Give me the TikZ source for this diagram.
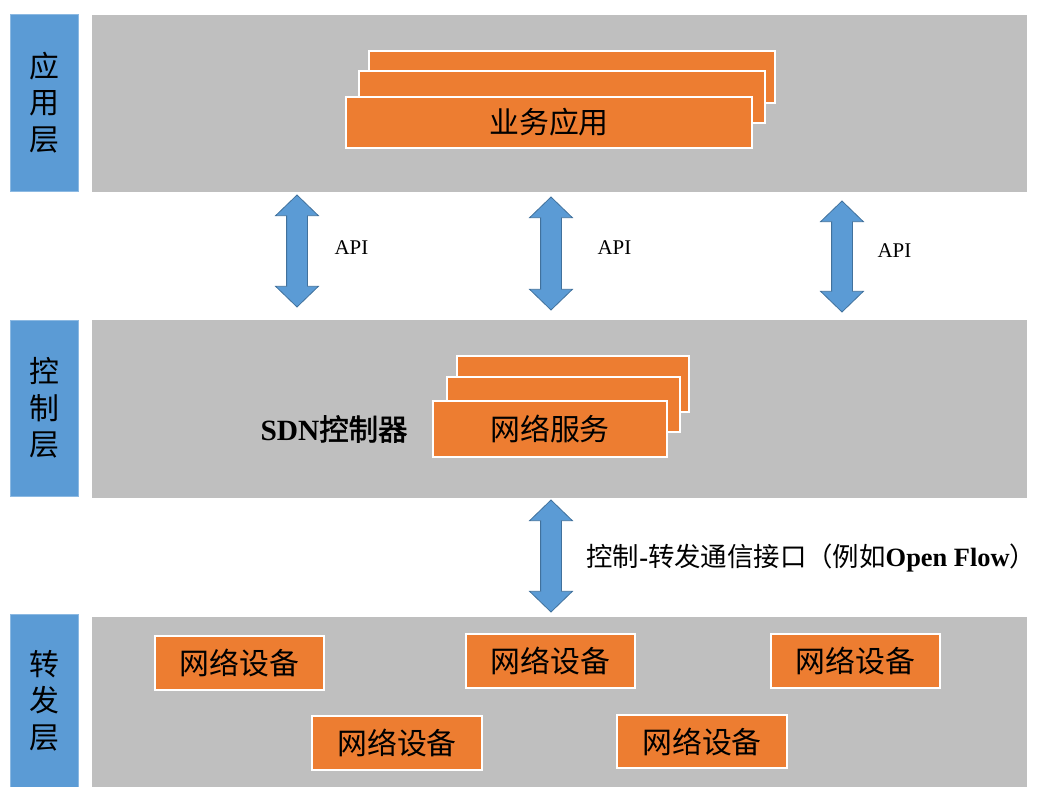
\documentclass[tikz,border=0pt]{standalone}
\usepackage{fontspec}
\setmainfont{Liberation Serif}
\newfontfamily\cjk[AutoFakeBold=2]{Noto Sans CJK SC}
\usetikzlibrary{shapes.arrows, positioning}
\definecolor{layerblue}{RGB}{91,155,213}
\definecolor{arrowedge}{RGB}{65,113,156}
\definecolor{panelgray}{RGB}{191,191,191}
\definecolor{cardorange}{RGB}{237,125,49}

\begin{document}
\begin{tikzpicture}[
    x=1bp, y=-1bp,
    layer/.style={fill=layerblue, draw=layerblue!70!white, minimum width=68bp, inner sep=0pt, font=\cjk\fontsize{30}{36.5}\selectfont, align=center},
    panel/.style={fill=panelgray, minimum width=935bp, inner sep=0pt},
    card/.style={fill=cardorange, draw=white, line width=1.2pt, inner sep=0pt, font=\cjk\fontsize{30}{36}\selectfont},
    link/.style={double arrow, fill=layerblue, draw=arrowedge, line width=0.8pt, rotate=90, minimum width=42bp, double arrow head extend=11bp, double arrow tip angle=92, inner xsep=0pt, inner ysep=10bp},
    api/.style={anchor=west, font=\fontsize{21}{23}\selectfont}
]
    \useasboundingbox (0,0) rectangle (1037,787);

    % layers
    \node[panel, minimum height=177bp] (apppanel) at (559.5,103.5) {};
    \node[panel, minimum height=178bp] (ctrlpanel) at (559.5,409) {};
    \node[panel, minimum height=170bp] (fwdpanel) at (559.5,702) {};
    \node[layer, minimum height=177bp] (applayer) at (44,102.5) {应\\用\\层};
    \node[layer, minimum height=176bp] (ctrllayer) at (44,408) {控\\制\\层};
    \node[layer, minimum height=173bp] (fwdlayer) at (44,700.5) {转\\发\\层};

    % application stack
    \node[card, minimum width=406bp, minimum height=52bp] (app3) at (572,77) {};
    \node[card, minimum width=406bp, minimum height=52bp] (app2) at (562,97) {};
    \node[card, minimum width=406bp, minimum height=51bp] (app1) at (549,122.5) {业务应用};

    % controller stack
    \node[card, minimum width=232bp, minimum height=56bp] (srv3) at (573,384) {};
    \node[card, minimum width=233bp, minimum height=55bp] (srv2) at (563.5,404.5) {};
    \node[card, minimum width=234bp, minimum height=56bp] (srv1) at (550,429) {网络服务};
    \node[anchor=east, font=\fontsize{29.5}{31}\selectfont\bfseries] (sdn) at (411,429) {SDN{\cjk 控制器}};

    % forwarding devices
    \node[card, minimum width=169bp, minimum height=54bp] (dev1) at (239.5,663) {网络设备};
    \node[card, minimum width=169bp, minimum height=54bp] (dev2) at (550.5,661) {网络设备};
    \node[card, minimum width=169bp, minimum height=54bp] (dev3) at (855.5,661) {网络设备};
    \node[card, minimum width=170bp, minimum height=54bp] (dev4) at (397,743) {网络设备};
    \node[card, minimum width=170bp, minimum height=53bp] (dev5) at (702,741.5) {网络设备};

    % interfaces
    \node[link, minimum height=112bp] (api1) at (297,251) {};
    \node[link, minimum height=113bp] (api2) at (551,253.5) {};
    \node[link, minimum height=111bp] (api3) at (842,256.5) {};
    \node[link, minimum height=112bp] (south) at (551,556) {};
    \node[api] (apitext1) at (331,248) {API};
    \node[api] (apitext2) at (594,248) {API};
    \node[api] (apitext3) at (874,251) {API};
    \node[anchor=west, font=\fontsize{26.5}{28}\selectfont] (sbtext) at (583,558) {{\cjk 控制}\textbf{-}{\cjk 转发通信接口（例如}\textbf{Open Flow}{\cjk ）}};
\end{tikzpicture}
\end{document}
